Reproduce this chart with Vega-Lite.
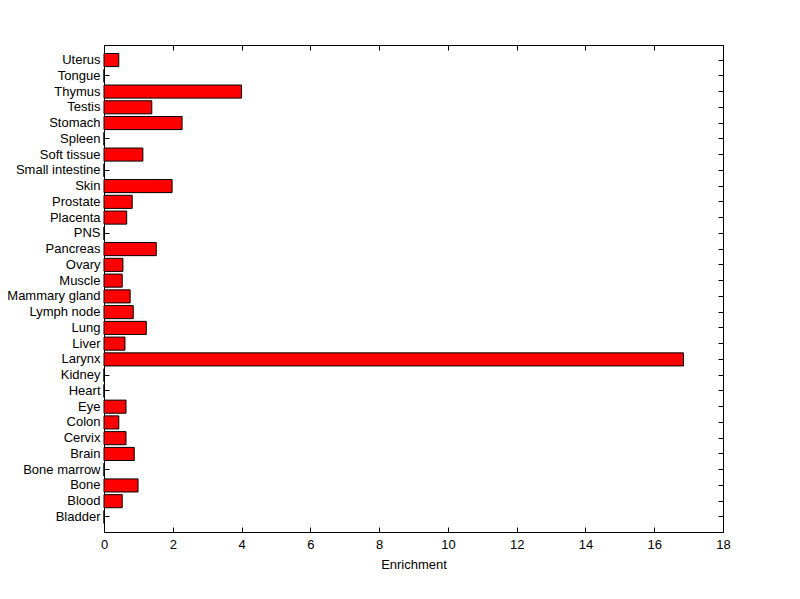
{
  "$schema": "https://vega.github.io/schema/vega-lite/v6.json",
  "autosize": "none",
  "width": 619,
  "height": 487,
  "padding": {"left": 104, "top": 45, "right": 77, "bottom": 67},
  "background": "white",
  "config": {
    "view": {"stroke": "black", "strokeWidth": 1},
    "font": "Liberation Sans",
    "axis": {
      "labelFont": "Liberation Sans",
      "titleFont": "Liberation Sans",
      "labelFontSize": 13,
      "titleFontSize": 13,
      "titleFontWeight": "normal",
      "labelColor": "black",
      "titleColor": "black",
      "domainColor": "black",
      "tickColor": "black",
      "grid": false
    }
  },
  "data": {
    "values": [
      {"tissue": "Bladder", "enrichment": 0},
      {"tissue": "Blood", "enrichment": 0.53},
      {"tissue": "Bone", "enrichment": 0.99},
      {"tissue": "Bone marrow", "enrichment": 0},
      {"tissue": "Brain", "enrichment": 0.88},
      {"tissue": "Cervix", "enrichment": 0.64},
      {"tissue": "Colon", "enrichment": 0.43},
      {"tissue": "Eye", "enrichment": 0.64},
      {"tissue": "Heart", "enrichment": 0},
      {"tissue": "Kidney", "enrichment": 0},
      {"tissue": "Larynx", "enrichment": 16.85},
      {"tissue": "Liver", "enrichment": 0.61},
      {"tissue": "Lung", "enrichment": 1.23},
      {"tissue": "Lymph node", "enrichment": 0.85},
      {"tissue": "Mammary gland", "enrichment": 0.76},
      {"tissue": "Muscle", "enrichment": 0.53},
      {"tissue": "Ovary", "enrichment": 0.55},
      {"tissue": "Pancreas", "enrichment": 1.52},
      {"tissue": "PNS", "enrichment": 0},
      {"tissue": "Placenta", "enrichment": 0.66},
      {"tissue": "Prostate", "enrichment": 0.82},
      {"tissue": "Skin", "enrichment": 1.98},
      {"tissue": "Small intestine", "enrichment": 0},
      {"tissue": "Soft tissue", "enrichment": 1.13},
      {"tissue": "Spleen", "enrichment": 0},
      {"tissue": "Stomach", "enrichment": 2.27},
      {"tissue": "Testis", "enrichment": 1.39},
      {"tissue": "Thymus", "enrichment": 4.0},
      {"tissue": "Tongue", "enrichment": 0},
      {"tissue": "Uterus", "enrichment": 0.43}
    ]
  },
  "layer": [
    {
      "mark": {"type": "bar", "fill": "#ff0000", "stroke": "black", "strokeWidth": 1},
      "encoding": {
        "y": {
          "field": "tissue", "type": "nominal", "sort": null,
          "scale": {"reverse": true, "paddingInner": 0.17, "paddingOuter": 0.54},
          "axis": {"title": null, "orient": "left", "tickSize": -5, "labelPadding": 9, "domain": true}
        },
        "x": {
          "field": "enrichment", "type": "quantitative",
          "scale": {"domain": [0, 18], "nice": false, "zero": true},
          "axis": {"title": "Enrichment", "orient": "bottom", "values": [0,2,4,6,8,10,12,14,16,18], "tickSize": -5, "labelPadding": 11, "titlePadding": 7, "labelFlush": false, "format": "d"}
        }
      }
    },
    {
      "mark": {"type": "bar", "opacity": 0},
      "encoding": {
        "y": {
          "field": "tissue", "type": "nominal", "sort": null,
          "scale": {"reverse": true, "paddingInner": 0.17, "paddingOuter": 0.54},
          "axis": {"title": null, "orient": "right", "tickSize": -5, "labels": false}
        },
        "x": {
          "field": "enrichment", "type": "quantitative",
          "scale": {"domain": [0, 18], "nice": false, "zero": true},
          "axis": {"title": null, "orient": "top", "values": [0,2,4,6,8,10,12,14,16,18], "tickSize": -5, "labels": false}
        }
      }
    }
  ],
  "resolve": {"axis": {"x": "independent", "y": "independent"}}
}
